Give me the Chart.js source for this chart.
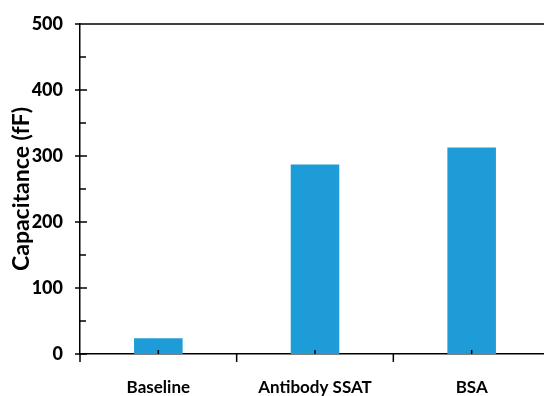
<!DOCTYPE html>
<html><head><meta charset="utf-8">
<script src="https://cdn.jsdelivr.net/npm/chart.js@4/dist/chart.umd.min.js"></script>
<style>
html,body{margin:0;padding:0;background:#fff;overflow:hidden;width:544px;height:396px}
#wrap{width:552px;height:396px;position:relative}
</style></head>
<body><div id="wrap"><canvas id="c"></canvas></div>
<script>
const categories = ["Baseline", "Antibody SSAT", "BSA"];
const capacitance = [24, 287, 313];
const yTicks = [0, 100, 200, 300, 400, 500];

const FONT = "Lato, 'Open Sans', sans-serif";

const marks = {
  id: 'marks',
  afterDraw(chart) {
    const {ctx, chartArea: a, scales: {x, y}} = chart;
    ctx.save();
    ctx.strokeStyle = '#000';
    ctx.lineWidth = 1.5;
    ctx.beginPath();
    // top border
    ctx.moveTo(a.left, a.top); ctx.lineTo(a.right, a.top);
    // y ticks
    for (let v = 0; v <= 500; v += 50) {
      const py = y.getPixelForValue(v);
      if (v % 100 === 0) { ctx.moveTo(a.left - 5, py); ctx.lineTo(a.left + 7, py); }
      else { ctx.moveTo(a.left, py); ctx.lineTo(a.left + 6, py); }
    }
    // x ticks between categories (down) and at centres (up)
    for (let i = 0; i <= categories.length; i++) {
      const px = x.getPixelForValue(i - 0.5);
      ctx.moveTo(px, a.bottom); ctx.lineTo(px, a.bottom + 8);
    }
    for (let i = 0; i < categories.length; i++) {
      const px = x.getPixelForValue(i);
      ctx.moveTo(px, a.bottom); ctx.lineTo(px, a.bottom - 4);
    }
    ctx.stroke();
    ctx.restore();
  }
};

new Chart(document.getElementById('c'), {
  type: 'bar',
  data: {
    labels: categories,
    datasets: [{
      data: capacitance,
      backgroundColor: '#1e9cd7',
      borderWidth: 0,
      categoryPercentage: 1,
      barPercentage: 0.31
    }]
  },
  options: {
    responsive: true,
    maintainAspectRatio: false,
    animation: false,
    layout: {padding: {top: 24, right: 2, left: 0, bottom: 0}},
    plugins: {legend: {display: false}, tooltip: {enabled: false}},
    scales: {
      x: {
        offset: true,
        grid: {display: false},
        border: {display: true, color: '#000', width: 1.5},
        ticks: {color: '#000', font: {family: FONT, size: 17, weight: 'bold'}, padding: 15, maxRotation: 0},
        afterFit(s) { s.height = 42; }
      },
      y: {
        min: 0, max: 500,
        afterBuildTicks(s) { s.ticks = yTicks.map(v => ({value: v})); },
        grid: {display: false},
        border: {display: true, color: '#000', width: 1.5},
        ticks: {color: '#000', font: {family: FONT, size: 18, weight: '900'}, padding: 9},
        title: {display: true, text: 'Capacitance (fF)', color: '#000', font: {family: FONT, size: 23, weight: 'bold'}, padding: {top: 8, bottom: 0}},
        afterFit(s) { s.width = 80; }
      }
    }
  },
  plugins: [marks]
});
</script></body></html>
